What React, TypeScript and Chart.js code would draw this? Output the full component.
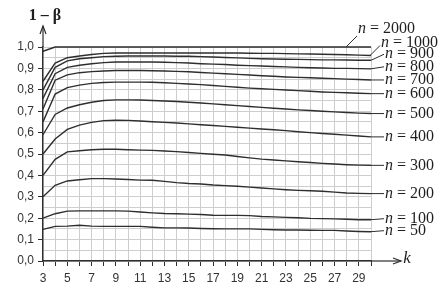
import { useEffect, useRef } from "react";
import { Chart, registerables } from "chart.js";

Chart.register(...registerables);

const kValues = [3, 4, 5, 6, 7, 8, 9, 10, 11, 12, 13, 14, 15, 16, 17, 18, 19, 20, 21, 22, 23, 24, 25, 26, 27, 28, 29, 30];

const n2000 = [0.98, 1, 1, 1, 1, 1, 1, 1, 1, 1, 1, 1, 1, 1, 1, 1, 1, 1, 1, 1, 1, 1, 1, 1, 1, 1, 1, 1];
const n1000 = [0.84, 0.925, 0.95, 0.958, 0.965, 0.97, 0.972, 0.972, 0.972, 0.972, 0.972, 0.972, 0.972, 0.972, 0.972, 0.972, 0.972, 0.971, 0.97, 0.97, 0.969, 0.968, 0.967, 0.966, 0.965, 0.964, 0.962, 0.96];
const n900 = [0.8, 0.905, 0.935, 0.945, 0.95, 0.955, 0.957, 0.958, 0.958, 0.958, 0.958, 0.957, 0.957, 0.955, 0.953, 0.951, 0.949, 0.947, 0.945, 0.944, 0.943, 0.942, 0.941, 0.94, 0.94, 0.939, 0.938, 0.938];
const n800 = [0.76, 0.875, 0.905, 0.915, 0.922, 0.927, 0.93, 0.93, 0.93, 0.93, 0.929, 0.927, 0.925, 0.922, 0.92, 0.918, 0.915, 0.913, 0.911, 0.909, 0.907, 0.905, 0.903, 0.902, 0.9, 0.9, 0.899, 0.898];
const n700 = [0.71, 0.845, 0.87, 0.88, 0.885, 0.888, 0.89, 0.89, 0.89, 0.889, 0.888, 0.886, 0.884, 0.881, 0.878, 0.875, 0.872, 0.869, 0.866, 0.863, 0.86, 0.858, 0.856, 0.854, 0.852, 0.85, 0.848, 0.846];
const n600 = [0.65, 0.78, 0.81, 0.822, 0.83, 0.834, 0.836, 0.836, 0.836, 0.835, 0.833, 0.83, 0.827, 0.824, 0.82, 0.816, 0.812, 0.808, 0.805, 0.802, 0.799, 0.796, 0.793, 0.79, 0.788, 0.786, 0.784, 0.782];
const n500 = [0.59, 0.685, 0.715, 0.73, 0.742, 0.75, 0.753, 0.753, 0.752, 0.75, 0.748, 0.745, 0.742, 0.738, 0.734, 0.73, 0.726, 0.722, 0.718, 0.714, 0.71, 0.706, 0.703, 0.7, 0.697, 0.694, 0.691, 0.689];
const n400 = [0.5, 0.57, 0.615, 0.635, 0.648, 0.656, 0.658, 0.657, 0.654, 0.651, 0.648, 0.645, 0.641, 0.637, 0.633, 0.629, 0.625, 0.621, 0.617, 0.613, 0.609, 0.604, 0.6, 0.596, 0.592, 0.588, 0.584, 0.58];
const n300 = [0.4, 0.475, 0.51, 0.515, 0.52, 0.522, 0.522, 0.52, 0.518, 0.517, 0.514, 0.511, 0.507, 0.503, 0.499, 0.495, 0.488, 0.482, 0.476, 0.472, 0.468, 0.464, 0.46, 0.456, 0.453, 0.45, 0.448, 0.447];
const n200 = [0.3, 0.354, 0.374, 0.38, 0.385, 0.385, 0.383, 0.381, 0.378, 0.377, 0.372, 0.366, 0.362, 0.36, 0.355, 0.352, 0.349, 0.345, 0.341, 0.337, 0.333, 0.33, 0.328, 0.326, 0.322, 0.318, 0.316, 0.315];
const n100 = [0.2, 0.221, 0.233, 0.234, 0.234, 0.234, 0.234, 0.233, 0.229, 0.225, 0.222, 0.221, 0.219, 0.217, 0.214, 0.213, 0.213, 0.212, 0.208, 0.206, 0.204, 0.202, 0.199, 0.198, 0.197, 0.195, 0.193, 0.193];
const n50 = [0.148, 0.162, 0.163, 0.167, 0.163, 0.162, 0.162, 0.162, 0.162, 0.158, 0.155, 0.155, 0.154, 0.152, 0.151, 0.15, 0.15, 0.15, 0.148, 0.146, 0.145, 0.145, 0.144, 0.143, 0.143, 0.14, 0.138, 0.137];

const seriesNames = ["2000", "1000", "900", "800", "700", "600", "500", "400", "300", "200", "100", "50"];
const yAxisTitle = "1 \u2013 \u03B2";
const xAxisTitle = "k";

const INK = "#2e2e2e";
const GRID = "#cdcdcd";

export default function App() {
  const ref = useRef<HTMLCanvasElement>(null);

  useEffect(() => {
    document.body.style.margin = "0";
    const series = [n2000, n1000, n900, n800, n700, n600, n500, n400, n300, n200, n100, n50];
    // label vertical shift (px) relative to curve end; null = angled leader
    const labelShift: Record<string, number> = {
      "900": -6, "800": -2, "700": 0, "600": 0, "500": 0, "400": 0, "300": 0, "200": 0, "100": -1, "50": -1,
    };

    const decor = {
      id: "decor",
      afterDraw(chart: any) {
        const ctx = chart.ctx as CanvasRenderingContext2D;
        const { left, right, top, bottom } = chart.chartArea;
        const ys = chart.scales.y;
        ctx.save();
        ctx.strokeStyle = INK;
        ctx.fillStyle = "#1e1e1e";
        ctx.lineWidth = 1.2;
        // y axis arrow
        ctx.beginPath();
        ctx.moveTo(left, top);
        ctx.lineTo(left, 26);
        ctx.stroke();
        ctx.beginPath();
        ctx.moveTo(left - 3, 34);
        ctx.lineTo(left, 26);
        ctx.lineTo(left + 3, 34);
        ctx.stroke();
        // x axis arrow
        ctx.beginPath();
        ctx.moveTo(right, bottom);
        ctx.lineTo(401, bottom);
        ctx.stroke();
        ctx.beginPath();
        ctx.moveTo(393, bottom - 3);
        ctx.lineTo(401, bottom);
        ctx.lineTo(393, bottom + 3);
        ctx.stroke();

        // axis titles
        ctx.textBaseline = "middle";
        ctx.textAlign = "center";
        ctx.font = "bold 16px 'Liberation Serif'";
        ctx.fillText(yAxisTitle, 45, 16);
        ctx.font = "italic 17px 'Liberation Serif'";
        ctx.fillText(xAxisTitle, 407, bottom - 2);

        // series labels
        ctx.textAlign = "left";
        const drawLabel = (name: string, x: number, y: number) => {
          ctx.font = "italic 16px 'Liberation Serif'";
          ctx.fillText("n", x, y);
          const w = ctx.measureText("n").width;
          ctx.font = "16px 'Liberation Serif'";
          ctx.fillText(" = " + name, x + w, y);
        };
        ctx.lineWidth = 1;
        series.forEach((arr, i) => {
          const name = seriesNames[i];
          const yEnd = ys.getPixelForValue(arr[arr.length - 1]);
          if (name === "2000") {
            ctx.beginPath();
            ctx.moveTo(346, yEnd);
            ctx.lineTo(357, yEnd - 11);
            ctx.stroke();
            drawLabel(name, 358, 29);
          } else if (name === "1000") {
            ctx.beginPath();
            ctx.moveTo(370, yEnd);
            ctx.lineTo(380, yEnd - 10);
            ctx.stroke();
            drawLabel(name, 381, 43);
          } else {
            const yl = yEnd + (labelShift[name] || 0);
            ctx.beginPath();
            ctx.moveTo(right, yEnd);
            ctx.lineTo(384, yl);
            ctx.stroke();
            drawLabel(name, 385, yl);
          }
        });
        ctx.restore();
      },
    };

    const chart = new Chart(ref.current as HTMLCanvasElement, {
      type: "line",
      data: {
        datasets: series.map((arr, i) => ({
          label: "n = " + seriesNames[i],
          data: kValues.map((k, j) => ({ x: k, y: arr[j] })),
          borderColor: INK,
          borderWidth: 1.4,
          pointRadius: 0,
          tension: 0,
          fill: false,
          clip: 4,
        })),
      },
      options: {
        responsive: false,
        animation: false,
        layout: { padding: { top: 47, right: 67, left: 0, bottom: 0 } },
        plugins: { legend: { display: false }, tooltip: { enabled: false } },
        scales: {
          x: {
            type: "linear",
            min: 3,
            max: 30,
            afterFit: (s: any) => {
              s.height = 41;
            },
            border: { display: true, color: INK, width: 1.4 },
            grid: { color: GRID, lineWidth: 1, tickColor: INK, tickLength: 5, drawTicks: true },
            ticks: {
              stepSize: 1,
              autoSkip: false,
              maxRotation: 0,
              padding: 5,
              color: "#333",
              font: { family: "'Liberation Sans'", size: 12 },
              callback: (v: any) => (Math.round(v) % 2 === 1 ? String(Math.round(v)) : ""),
            },
          },
          y: {
            type: "linear",
            min: 0,
            max: 1,
            afterFit: (s: any) => {
              s.width = 43;
            },
            border: { display: true, color: INK, width: 1.4 },
            grid: {
              color: GRID,
              lineWidth: 1,
              tickLength: 5,
              tickColor: (c: any) => {
                const v = c.tick ? c.tick.value : 0;
                return Math.abs(v * 10 - Math.round(v * 10)) < 1e-6 ? INK : "rgba(0,0,0,0)";
              },
            },
            ticks: {
              stepSize: 0.05,
              autoSkip: false,
              padding: 4,
              color: "#333",
              font: { family: "'Liberation Sans'", size: 12 },
              callback: (v: any) =>
                Math.abs(v * 10 - Math.round(v * 10)) < 1e-6 ? (Math.round(v * 10) / 10).toFixed(1).replace(".", ",") : "",
            },
          },
        },
      },
      plugins: [decor],
    } as any);

    return () => chart.destroy();
  }, []);

  return <canvas ref={ref} width={438} height={302} style={{ display: "block" }} />;
}
